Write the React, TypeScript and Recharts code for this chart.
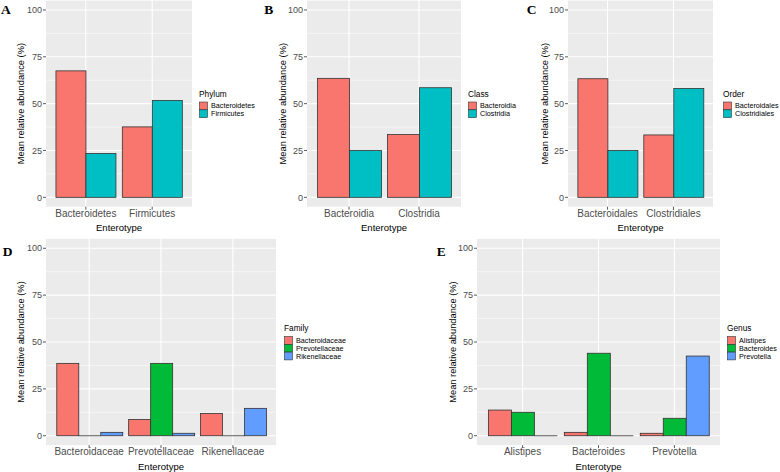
import React from 'react';
import { BarChart, Bar, XAxis, YAxis, CartesianGrid } from 'recharts';

// ---------- data ----------
const phylumCategories = ['Bacteroidetes', 'Firmicutes'];
const phylumBacteroidetes = [67.5, 37.6];
const phylumFirmicutes = [23.4, 51.7];

const classCategories = ['Bacteroidia', 'Clostridia'];
const classBacteroidia = [63.5, 33.5];
const classClostridia = [25.0, 58.5];

const orderCategories = ['Bacteroidales', 'Clostridiales'];
const orderBacteroidales = [63.3, 33.3];
const orderClostridiales = [25.0, 58.1];

const familyCategories = ['Bacteroidaceae', 'Prevotellaceae', 'Rikenellaceae'];
const familyBacteroidaceae = [38.6, 8.7, 11.9];
const familyPrevotellaceae = [0, 38.6, 0];
const familyRikenellaceae = [1.8, 1.3, 14.6];

const genusCategories = ['Alistipes', 'Bacteroides', 'Prevotella'];
const genusAlistipes = [13.7, 1.8, 1.3];
const genusBacteroides = [12.5, 44.0, 9.3];
const genusPrevotella = [0, 0, 42.5];

const yTicks = [0, 25, 50, 75, 100];
const yMinor = [12.5, 37.5, 62.5, 87.5];

// ---------- styles ----------
const RED = '#F8766D';
const TEAL = '#00BFC4';
const GREEN = '#00BA38';
const BLUE = '#619CFF';
const SANS = '"Liberation Sans", Arial, Helvetica, sans-serif';
const SERIF = '"Liberation Serif", "Times New Roman", serif';

type Series = { name: string; values: number[]; color: string };
type PanelCfg = {
  letter: string;
  legendTitle: string;
  categories: string[];
  series: Series[];
  left: number; top: number; width: number; height: number;
  plotLeft: number; plotRight: number; plotTop: number; plotBottom: number;
  letterX: number; letterY: number;
  yTitleX: number;
  legendX: number; legendTitleY: number; legendKeyTop: number;
};

const panels: PanelCfg[] = [
  {
    letter: 'A', legendTitle: 'Phylum', categories: phylumCategories,
    series: [
      { name: 'Bacteroidetes', values: phylumBacteroidetes, color: RED },
      { name: 'Firmicutes', values: phylumFirmicutes, color: TEAL },
    ],
    left: 0, top: 0, width: 260, height: 240,
    plotLeft: 46, plotRight: 192, plotTop: 0.6, plotBottom: 206.7,
    letterX: 1, letterY: 14, yTitleX: 21,
    legendX: 199, legendTitleY: 97.3, legendKeyTop: 102,
  },
  {
    letter: 'B', legendTitle: 'Class', categories: classCategories,
    series: [
      { name: 'Bacteroidia', values: classBacteroidia, color: RED },
      { name: 'Clostridia', values: classClostridia, color: TEAL },
    ],
    left: 260, top: 0, width: 260, height: 240,
    plotLeft: 307, plotRight: 461, plotTop: 0.6, plotBottom: 206.7,
    letterX: 264.3, letterY: 14, yTitleX: 283.5,
    legendX: 468, legendTitleY: 97.3, legendKeyTop: 102,
  },
  {
    letter: 'C', legendTitle: 'Order', categories: orderCategories,
    series: [
      { name: 'Bacteroidales', values: orderBacteroidales, color: RED },
      { name: 'Clostridiales', values: orderClostridiales, color: TEAL },
    ],
    left: 520, top: 0, width: 260, height: 240,
    plotLeft: 568, plotRight: 713, plotTop: 0.6, plotBottom: 206.7,
    letterX: 526.7, letterY: 14, yTitleX: 545,
    legendX: 723, legendTitleY: 97.3, legendKeyTop: 102,
  },
  {
    letter: 'D', legendTitle: 'Family', categories: familyCategories,
    series: [
      { name: 'Bacteroidaceae', values: familyBacteroidaceae, color: RED },
      { name: 'Prevotellaceae', values: familyPrevotellaceae, color: GREEN },
      { name: 'Rikenellaceae', values: familyRikenellaceae, color: BLUE },
    ],
    left: 0, top: 236, width: 390, height: 236,
    plotLeft: 46, plotRight: 276, plotTop: 238.9, plotBottom: 445.1,
    letterX: 2.7, letterY: 256, yTitleX: 21,
    legendX: 284, legendTitleY: 331.3, legendKeyTop: 336.5,
  },
  {
    letter: 'E', legendTitle: 'Genus', categories: genusCategories,
    series: [
      { name: 'Alistipes', values: genusAlistipes, color: RED },
      { name: 'Bacteroides', values: genusBacteroides, color: GREEN },
      { name: 'Prevotella', values: genusPrevotella, color: BLUE },
    ],
    left: 390, top: 236, width: 390, height: 236,
    plotLeft: 477, plotRight: 720, plotTop: 238.9, plotBottom: 445.1,
    letterX: 436.7, letterY: 256, yTitleX: 452.5,
    legendX: 727, legendTitleY: 331.3, legendKeyTop: 336.5,
  },
];

const BarShape = (props: any) => {
  const { x, y, width, height, fill } = props;
  if (x == null || y == null || width == null) return null;
  if (!height || Math.abs(height) < 0.001) {
    return <line x1={x} x2={x + width} y1={y} y2={y} stroke="#333333" strokeWidth={0.8} />;
  }
  const yy = height < 0 ? y + height : y;
  const hh = Math.abs(height);
  return <rect x={x} y={yy} width={width} height={hh} fill={fill} stroke="#333333" strokeWidth={0.8} />;
};

const Y_W = 30;
const X_H = 20;

function Panel({ cfg }: { cfg: PanelCfg }) {
  const { left, top, width, height, plotLeft, plotRight, plotTop, plotBottom, categories, series } = cfg;
  const data = categories.map((c, i) => {
    const row: any = { cat: c };
    series.forEach((s, j) => { row['s' + j] = s.values[i]; });
    return row;
  });
  const n = categories.length;
  const W = plotRight - plotLeft;
  const pad = (W / (n + 0.2)) * 0.1;
  const margin = {
    left: plotLeft - left - Y_W,
    right: left + width - plotRight,
    top: plotTop - top,
    bottom: top + height - plotBottom - X_H,
  };
  return (
    <div style={{ position: 'absolute', left, top, width, height }}>
      <BarChart width={width} height={height} data={data} margin={margin} barCategoryGap="5%" barGap={0}>
        <CartesianGrid fill="#EBEBEB" stroke="#FFFFFF" strokeWidth={0.5} vertical={false} horizontalValues={yMinor} syncWithTicks />
        <CartesianGrid stroke="#FFFFFF" strokeWidth={1.1} horizontalValues={yTicks} syncWithTicks />
        <XAxis
          dataKey="cat"
          type="category"
          interval={0}
          padding={{ left: pad, right: pad }}
          axisLine={false}
          tickLine={{ stroke: '#333333', strokeWidth: 0.8 }}
          tickSize={3}
          tickMargin={0}
          height={X_H}
          tick={{ fill: '#4D4D4D', fontSize: 10, fontFamily: SANS }}
        />
        <YAxis
          type="number"
          domain={[-5, 105]}
          ticks={yTicks}
          interval={0}
          axisLine={false}
          tickLine={{ stroke: '#333333', strokeWidth: 0.8 }}
          tickSize={3}
          tickMargin={1}
          width={Y_W}
          tick={{ fill: '#4D4D4D', fontSize: 9, fontFamily: SANS }}
        />
        {series.map((s, j) => (
          <Bar
            key={s.name}
            dataKey={'s' + j}
            name={s.name}
            fill={s.color}
            isAnimationActive={false}
            shape={(p: any) => <BarShape {...p} />}
          />
        ))}
      </BarChart>
    </div>
  );
}

function Overlay() {
  return (
    <svg width={780} height={472} style={{ position: 'absolute', left: 0, top: 0, pointerEvents: 'none' }}>
      {panels.map((p) => {
        const cx = (p.plotLeft + p.plotRight) / 2;
        const cy = (p.plotTop + p.plotBottom) / 2;
        return (
          <g key={p.letter}>
            <text x={p.letterX} y={p.letterY} fontFamily={SERIF} fontWeight="bold" fontSize={13.5} fill="#000">{p.letter}</text>
            <text
              x={p.yTitleX}
              y={cy}
              transform={`rotate(-90, ${p.yTitleX}, ${cy})`}
              textAnchor="middle"
              dominantBaseline="central"
              fontFamily={SANS}
              fontSize={9.3}
              fill="#000"
            >Mean relative abundance (%)</text>
            <text x={cx} y={p.plotBottom + 24.5} textAnchor="middle" fontFamily={SANS} fontSize={9.5} fill="#000">Enterotype</text>
            <text x={p.legendX} y={p.legendTitleY} fontFamily={SANS} fontSize={8.3} fill="#000">{p.legendTitle}</text>
            {p.series.map((s, j) => (
              <g key={s.name}>
                <rect x={p.legendX + 0.5} y={p.legendKeyTop + j * 7.8} width={8} height={7.8} fill={s.color} stroke="#333333" strokeWidth={0.6} />
                <text x={p.legendX + 12} y={p.legendKeyTop + j * 7.8 + 3.9} dominantBaseline="central" fontFamily={SANS} fontSize={7.2} fill="#000">{s.name}</text>
              </g>
            ))}
          </g>
        );
      })}
    </svg>
  );
}

export default function App() {
  return (
    <div style={{ position: 'absolute', left: 0, top: 0, width: 780, height: 472, background: '#FFFFFF', overflow: 'hidden' }}>
      {panels.map((p) => <Panel key={p.letter} cfg={p} />)}
      <Overlay />
    </div>
  );
}
